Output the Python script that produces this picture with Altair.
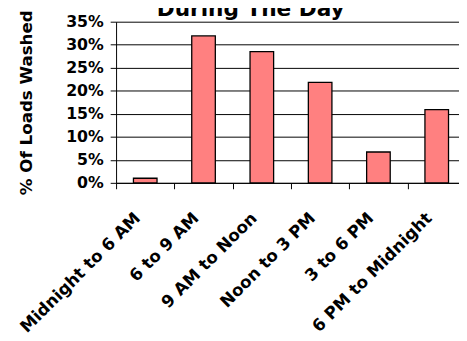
import altair as alt
import pandas as pd

categories = ["Midnight to 6 AM", "6 to 9 AM", "9 AM to Noon", "Noon to 3 PM", "3 to 6 PM", "6 PM to Midnight"]
values = [0.01, 0.319, 0.285, 0.218, 0.067, 0.159]
y_ticks = [0, 0.05, 0.10, 0.15, 0.20, 0.25, 0.30, 0.35]
title_text = ["During The Day"]

df = pd.DataFrame({"cat": categories, "val": values})
FONT = "DejaVu Sans"

bars = alt.Chart(df).mark_bar(
    width=24, fill="#FF8080", stroke="black", strokeWidth=1.3
).encode(
    x=alt.X("cat:N", sort=categories, title=None,
            scale=alt.Scale(paddingInner=0, paddingOuter=0),
            axis=alt.Axis(labelAngle=-45, labelAlign="right", labelBaseline="middle",
                          labelFont=FONT, labelFontWeight="bold", labelFontSize=17,
                          labelColor="black", labelOffset=-8, labelPadding=27,
                          tickBand="extent", tickSize=6, tickColor="black",
                          domainColor="black", grid=False, labelOverlap=False)),
    y=alt.Y("val:Q", title="% Of Loads Washed",
            scale=alt.Scale(domain=[0, 0.35], nice=False),
            axis=alt.Axis(values=y_ticks, format=".0%", labelFont=FONT,
                          labelFontWeight="bold", labelFontSize=16, labelColor="black",
                          labelPadding=7, tickSize=6, tickColor="black",
                          domainColor="black", gridColor="black", gridOpacity=1,
                          gridWidth=1, titleFont=FONT, titleFontWeight="bold",
                          titleFontSize=17, titleColor="black", titleAngle=270,
                          titleX=-86, titleY=82, titleAlign="center",
                          titleBaseline="alphabetic"))
)

tdf = pd.DataFrame({"t": title_text})
title = alt.Chart(tdf).mark_text(
    font=FONT, fontWeight="bold", fontSize=22, color="black",
    align="center", baseline="alphabetic"
).encode(text="t:N", x=alt.value(137), y=alt.value(-6))

chart = alt.layer(bars, title).properties(
    width=356, height=164,
    autosize=alt.AutoSizeParams(type="none"),
    padding={"left": 110, "top": 11, "right": -7, "bottom": 158},
).configure_view(stroke=None)

chart.save("out.html", embed_options={"renderer": "svg", "actions": False})
